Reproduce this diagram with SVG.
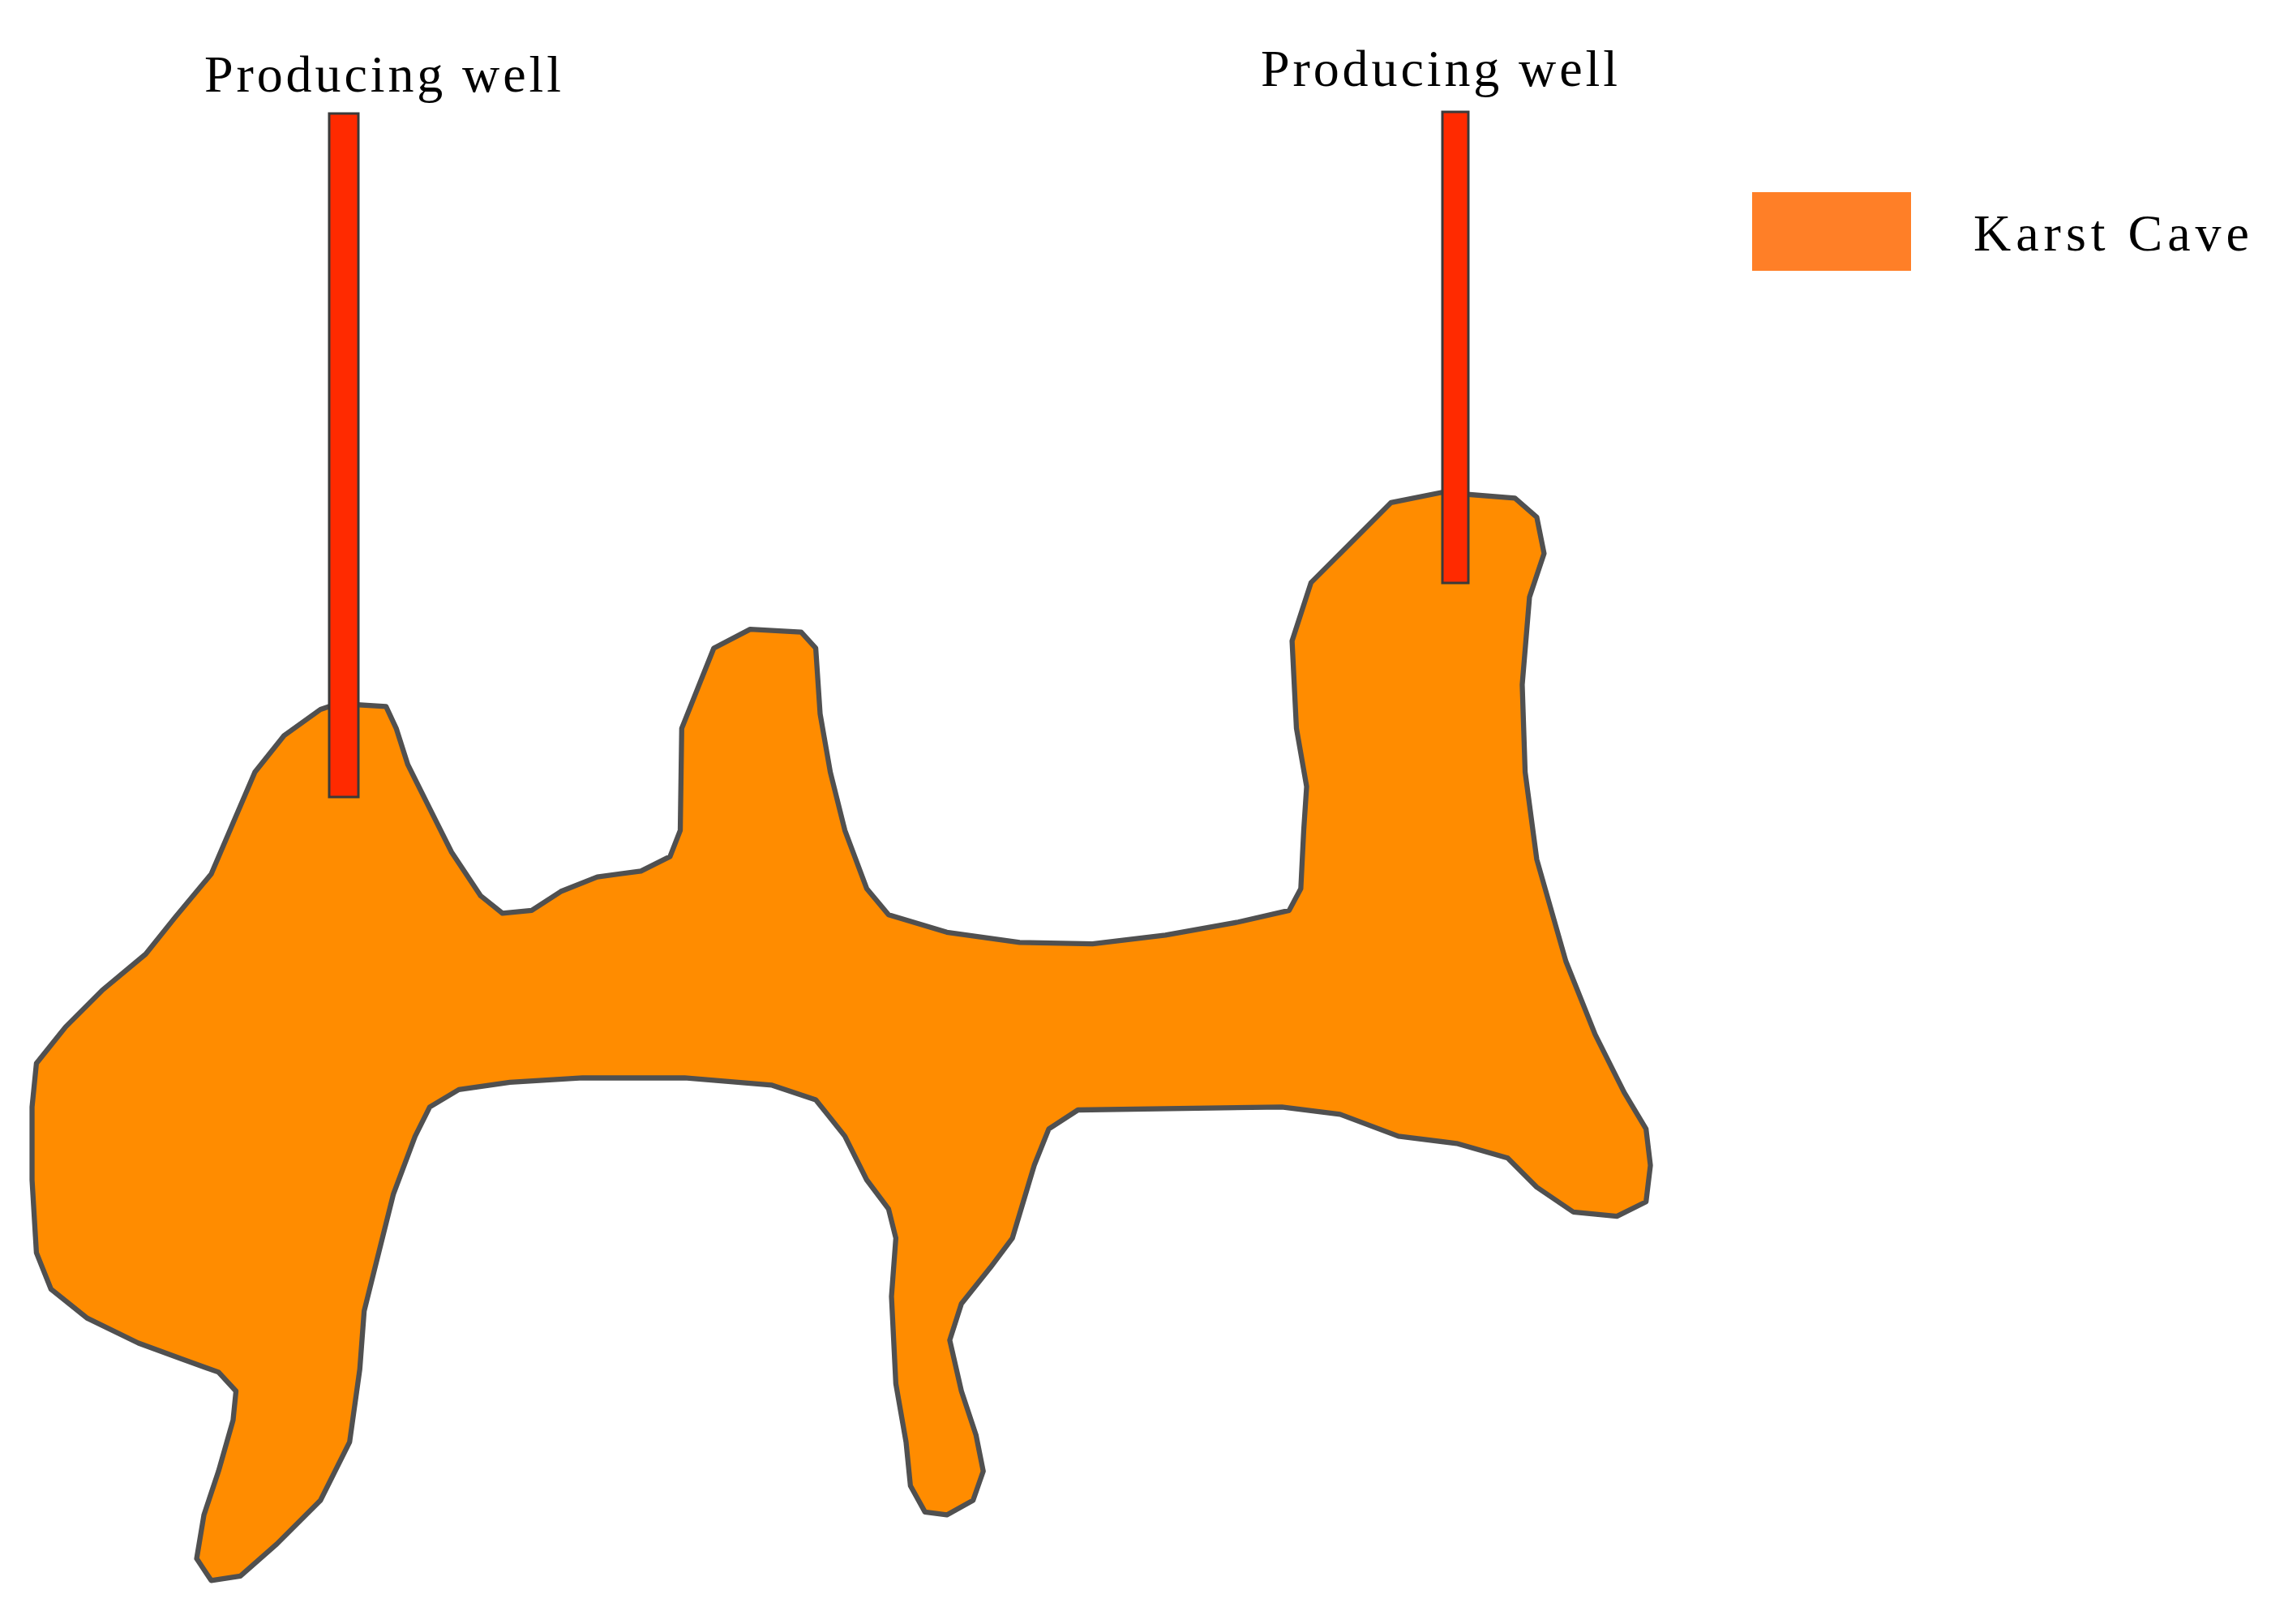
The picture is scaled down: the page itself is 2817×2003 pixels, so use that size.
<svg xmlns="http://www.w3.org/2000/svg" width="2817" height="2003" viewBox="0 0 2817 2003">
<style>
.lbl{font-family:"Liberation Serif",serif;font-size:64px;fill:#000}
.well{fill:#FF2A00;stroke:#3a3a3a;stroke-width:3}
</style>
<rect width="2817" height="2003" fill="#fff"/>
<g id="cave" transform="scale(1.7966)">
<path fill="#FF8C00" stroke="#505050" stroke-width="3.5" stroke-linejoin="round" d="M220,487 L232,483 L265,485 L272,500 L280,525 L295,555 L310,585 L330,615 L345,627 L365,625 L385,612 L410,602 L440,598 L460,588 L467,570 L468,500 L480,470 L490,445 L515,432 L550,434 L560,445 L563,490 L570,530 L580,570 L595,610 L610,628 L650,640 L700,647 L750,648 L800,642 L850,633 L885,625 L893,610 L895,570 L897,540 L890,500 L887,440 L900,400 L930,370 L955,345 L990,338 L1040,342 L1055,355 L1060,380 L1050,410 L1045,470 L1047,530 L1055,590 L1075,660 L1095,710 L1115,750 L1130,775 L1133,800 L1130,825 L1110,835 L1080,832 L1055,815 L1035,795 L1000,785 L960,780 L920,765 L880,760 L740,762 L720,775 L710,800 L695,850 L680,870 L660,895 L652,920 L660,955 L670,985 L675,1010 L668,1030 L650,1040 L635,1038 L625,1020 L622,990 L615,950 L612,890 L615,850 L610,830 L595,810 L580,780 L560,755 L530,745 L470,740 L400,740 L350,743 L315,748 L295,760 L285,780 L270,820 L260,860 L250,900 L247,940 L240,990 L220,1030 L190,1060 L165,1082 L145,1085 L135,1070 L140,1040 L150,1010 L160,975 L162,955 L150,942 L125,933 L95,922 L60,905 L35,885 L25,860 L22,810 L22,760 L25,730 L45,705 L70,680 L100,655 L120,630 L145,600 L160,565 L175,530 L195,505 Z"/>
</g>
<g id="well1">
<rect class="well" x="406" y="140" width="36" height="843"/>
<text class="lbl" x="472" y="113" text-anchor="middle" textLength="440">Producing well</text>
</g>
<g id="well2">
<rect class="well" x="1779" y="138" width="32" height="581"/>
<text class="lbl" x="1775" y="106" text-anchor="middle" textLength="440">Producing well</text>
</g>
<g id="legend">
<rect x="2161" y="237" width="196" height="97" fill="#FF7F27"/>
<text class="lbl" x="2434" y="309" textLength="340">Karst Cave</text>
</g>
</svg>
